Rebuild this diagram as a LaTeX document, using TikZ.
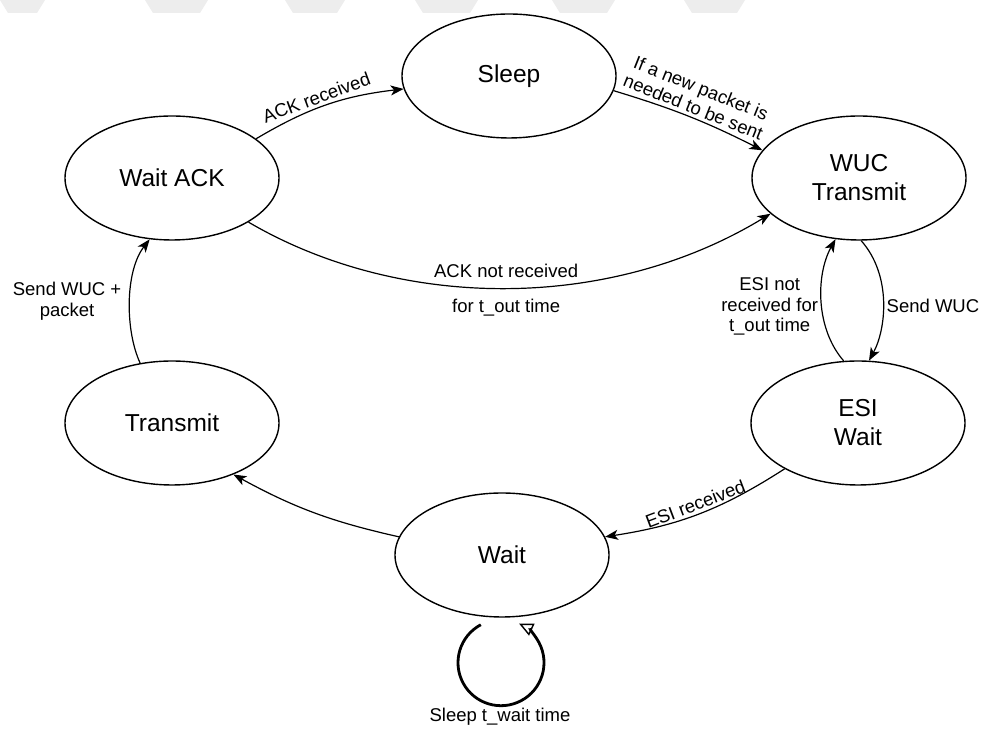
\documentclass[tikz,border=0pt]{standalone}
\usepackage{fontspec}
\setmainfont{Liberation Sans}
\usetikzlibrary{arrows.meta,shapes.geometric}
\begin{document}
\begin{tikzpicture}[x=1pt,y=1pt,
  state/.style={ellipse, draw, line width=1.4pt, minimum width=214pt,
    minimum height=124pt, inner sep=0pt, align=center,
    font=\fontsize{24.5}{29}\selectfont},
  trans/.style={line width=1.2pt, -{Stealth[length=13pt,width=10pt,inset=3.5pt]}},
  lbl/.style={font=\fontsize{18.5}{20.5}\selectfont, align=center, inner sep=3pt},
  band/.style={fill=black!7, draw=none}]

% canvas
\fill[white] (0,0) rectangle (988,730);
\useasboundingbox (0,0) rectangle (988,730);

% light banner stripes along the top edge
\foreach \a/\b in {0/45, 145/208, 285/345, 415/478, 552/615, 684/745}
  \fill[band] (\a,730) -- (\b,730) -- (\b-8,717) -- (\a+8,717) -- cycle;

% states
\node[state] (sleep)    at (509,654) {Sleep};
\node[state] (waitack)  at (172,552) {Wait ACK};
\node[state] (wuc)      at (859,552) {WUC\\Transmit};
\node[state] (transmit) at (172,307) {Transmit};
\node[state] (esi)      at (858,307) {ESI\\Wait};
\node[state] (wait)     at (502,175) {Wait};

% transitions
\draw[trans] (waitack.25) to[bend left=12]
  node[lbl, pos=0.45, sloped, above] {ACK received} (sleep.187);

\draw[trans] (sleep.-8) to[bend left=5]
  node[lbl, pos=0.5, sloped, above] {If a new packet is\\needed to be sent} (wuc.164);

\draw[trans] (waitack.-30) .. controls +(152,-89) and +(-161,-98) .. (wuc.202)
  node[lbl, pos=0.5, above, yshift=7pt] {ACK not received}
  node[lbl, pos=0.5, below, yshift=-7pt] {for t\_out time};

\draw[trans] (transmit.118) .. controls +(-15,32) and +(-25,-32) .. (waitack.250)
  node[lbl, pos=0.5, left, xshift=-5pt] {Send WUC +\\packet};

\draw[trans] (esi.103) .. controls +(-28,32) and +(-20,-36) .. (wuc.249)
  node[lbl, pos=0.5, left, yshift=-5pt] {ESI not\\received for\\t\_out time};

\draw[trans] (wuc.272) .. controls +(31,-35) and +(17,31) .. (esi.80)
  node[lbl, pos=0.5, right, yshift=-4pt] {Send WUC};

\draw[trans] (esi.212) to[bend left=12]
  node[lbl, pos=0.5, sloped, above] {ESI received} (wait.10);

\draw[trans] (wait.170) to[bend left=8] (transmit.-40);

% self loop below the Wait state
\coordinate (loopc) at ([xshift=-1pt,yshift=-45pt]wait.south);
\draw[line width=2.8pt, -{Triangle[open,length=14pt,width=13pt,line width=1.4pt]}]
  (loopc) ++(118:43) arc[start angle=118, end angle=425, radius=43];
\node[lbl] (looplbl) at (500,13) {Sleep t\_wait time};

\end{tikzpicture}
\end{document}
